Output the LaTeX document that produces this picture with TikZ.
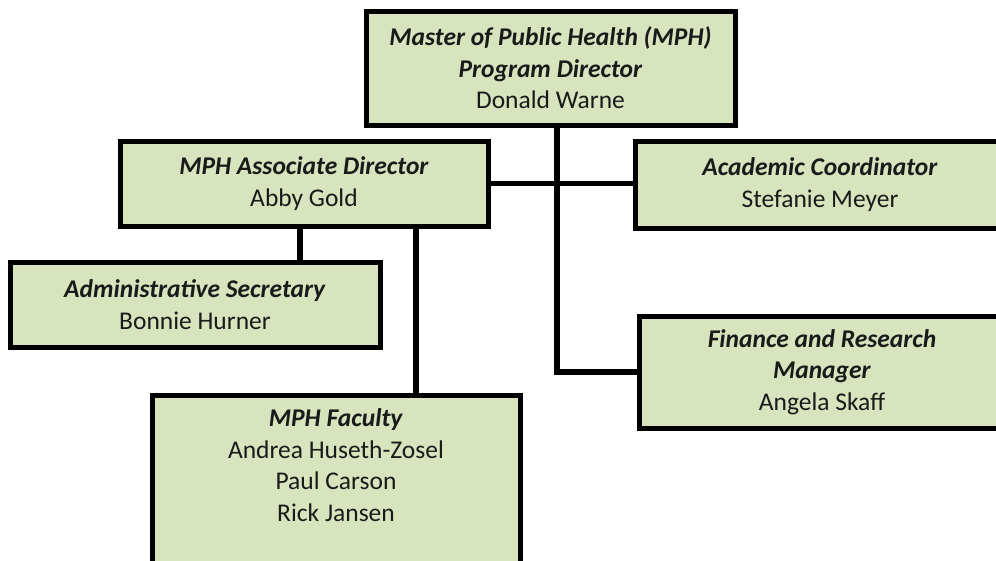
\documentclass[tikz,border=0pt]{standalone}
\usepackage{fontspec}
\setmainfont{Carlito}
\usetikzlibrary{calc}
\definecolor{boxfill}{HTML}{D7E4BD}
\definecolor{ink}{HTML}{1A1A1A}
\begin{document}
\begin{tikzpicture}[x=1pt,y=-1pt,
  orgbox/.style={draw=black, fill=boxfill, line width=5pt, rectangle,
    align=center, text=ink, inner sep=0pt, line join=miter,
    font=\fontsize{25.5}{31.5}\selectfont},
  link/.style={draw=black, line width=5.5pt, line join=miter}]
\useasboundingbox (0,0) rectangle (996,560);
\fill[white] (0,0) rectangle (996,560);

% boxes
\node[orgbox, minimum width=369pt, minimum height=114pt] (top) at (550.5,68)
  {\textbf{\textit{Master of Public Health (MPH)}}\\\textbf{\textit{Program Director}}\\Donald Warne};
\node[orgbox, minimum width=368pt, minimum height=85pt] (ad) at (304,183.5)
  {\textbf{\textit{MPH Associate Director}}\\Abby Gold};
\node[orgbox, minimum width=370pt, minimum height=87pt] (ac) at (820,184.5)
  {\textbf{\textit{Academic Coordinator}}\\Stefanie Meyer};
\node[orgbox, minimum width=370pt, minimum height=85pt] (as) at (195,304.5)
  {\textbf{\textit{Administrative Secretary}}\\Bonnie Hurner};
\node[orgbox, minimum width=366pt, minimum height=112pt] (fin) at (822,372)
  {\textbf{\textit{Finance and Research}}\\\textbf{\textit{Manager}}\\Angela Skaff};
\node[orgbox, minimum width=368pt, minimum height=169pt] (fac) at (336,479.5) {};
\node[orgbox, draw=none, fill=none, anchor=north] (factext) at ($(fac.north)+(0,14)$)
  {\textbf{\textit{MPH Faculty}}\\Andrea Huseth-Zosel\\Paul Carson\\Rick Jansen};

% connector columns
\coordinate (colA) at (300,0);
\coordinate (colB) at (416,0);
\coordinate (colC) at (557,0);

% connectors
\draw[link] (colC |- top.south) |- (fin.west);
\draw[link] (ad.east) -- (ad.east -| ac.west);
\draw[link] (colA |- ad.south) -- (colA |- as.north);
\draw[link] (colB |- ad.south) -- (colB |- fac.north);
\end{tikzpicture}
\end{document}
